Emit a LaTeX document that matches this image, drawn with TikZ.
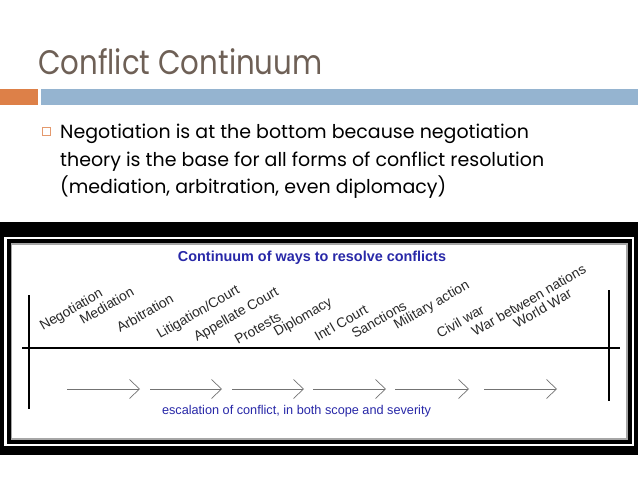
\documentclass[tikz,border=0pt]{standalone}
\usepackage{fontspec}
\setmainfont{Poppins}
\newfontfamily\arialfont{Liberation Sans}
\usetikzlibrary{arrows.meta}
\definecolor{titlebrown}{RGB}{110,96,86}
\definecolor{barorange}{RGB}{221,128,72}
\definecolor{barblue}{RGB}{149,180,208}
\definecolor{inkblue}{RGB}{40,40,168}
\definecolor{labelgray}{RGB}{40,40,40}
\tikzset{
  slidetitle/.style = {anchor=base west, inner sep=0pt, xscale=0.86, text=titlebrown, font=\fontsize{34}{38}\selectfont},
  bodyline/.style   = {anchor=base west, inner sep=0pt, text=black, font=\fontsize{19}{24}\selectfont},
  bulletbox/.style  = {rectangle, draw=barorange!80!white, line width=0.6pt, minimum size=8pt, inner sep=0pt},
  chartcap/.style   = {inner sep=0pt, text=inkblue, font=\arialfont\bfseries\fontsize{14.4}{16}\selectfont},
  stagelabel/.style = {anchor=base west, inner sep=0pt, rotate=30, text=labelgray, font=\arialfont\fontsize{13.8}{15}\selectfont},
  axis/.style       = {line width=2.4pt, black},
  escalate/.style   = {-{Straight Barb[length=10pt, width=19pt, line width=0.7pt]}, line width=0.7pt, draw=black!55},
}
\begin{document}
\begin{tikzpicture}[x=1pt, y=-1pt]
    \useasboundingbox (0,0) rectangle (638,479);

    % ── Slide title and bars ────────────────────────────────────
    \node[slidetitle] (title) at (38,74) {Conflict Continuum};
    \fill[barorange] (0,89) rectangle (37.5,105);
    \fill[barblue] (40.5,89) rectangle (638,105);

    % ── Bullet text ─────────────────────────────────────────────
    \node[bulletbox] (bullet) at (46,131) {};
    \node[bodyline] (line1) at (60,138.5) {Negotiation is at the bottom because negotiation};
    \node[bodyline] (line2) at (60,166)   {theory is the base for all forms of conflict resolution};
    \node[bodyline] (line3) at (60,193)   {(mediation, arbitration, even diplomacy)};

    % ── Picture frame ───────────────────────────────────────────
    \fill[black] (0,222) rectangle (638,455);
    \fill[white] (4,237) rectangle (634,446);
    \draw[line width=4pt] (8.5,241) rectangle (630,442);
    \draw[black!35, line width=1.5pt] (11.5,244) rectangle (627,439);

    \node[chartcap] (cap) at (312,258) {Continuum of ways to resolve conflicts};

    % ── Axis ────────────────────────────────────────────────────
    \coordinate (axL) at (22,348);    \coordinate (axR) at (620,348);
    \coordinate (lTop) at (29,295);   \coordinate (lBot) at (29,409);
    \coordinate (rTop) at (609,290);  \coordinate (rBot) at (609,401);
    \draw[axis] (axL) -- (axR);
    \draw[axis] (lTop) -- (lBot);
    \draw[axis] (rTop) -- (rBot);

    % ── Stages along the continuum ──────────────────────────────
    \foreach \nm/\txt/\x/\y in {neg/Negotiation/43/331, med/Mediation/83/325,
        arb/Arbitration/120/333, lit/{Litigation/Court}/160/339,
        app/Appellate Court/197/342, pro/Protests/238/345,
        dip/Diplomacy/277/337, icj/Int'l Court/318/342,
        san/Sanctions/355/339, mil/Military action/397/330,
        civ/Civil war/440/339, wbn/War between nations/475/337,
        ww/World War/517/329}
      \node[stagelabel] (\nm) at (\x,\y) {\txt};

    % ── Escalation arrows ───────────────────────────────────────
    \foreach \s/\e [count=\i] in {67/140, 150/222, 232/304, 313/386, 395/469, 484/557} {
      \coordinate (from\i) at (\s,389);
      \coordinate (to\i) at (\e,389);
      \draw[escalate] (from\i) -- (to\i);
    }
    \node[inner sep=0pt, text=inkblue, font=\arialfont\fontsize{12.7}{14}\selectfont]
      (esc) at (296.5,411) {escalation of conflict, in both scope and severity};
  \end{tikzpicture}
\end{document}
